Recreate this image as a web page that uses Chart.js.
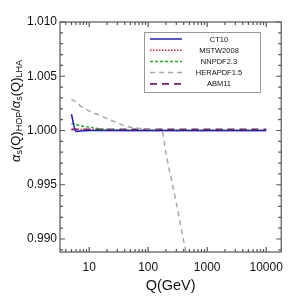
<!DOCTYPE html>
<html>
<head>
<meta charset="utf-8">
<script src="https://cdn.jsdelivr.net/npm/chart.js@4"></script>
<style>
  html, body { margin: 0; padding: 0; background: #fff; }
  #wrap { width: 291px; height: 299px; position: relative; }
</style>
</head>
<body>
<div id="wrap"><canvas id="chart" width="291" height="299"></canvas></div>
<script>
// Q in GeV
const qValues = [5, 6, 7, 10, 15, 20, 30, 50, 70, 100, 150, 170, 200, 300, 400, 500, 1000, 2000, 5000, 10000];

const ct10   = [1.0015, 0.9999, 0.99995, 1.0, 1.0, 1.0, 1.0, 1.0, 1.0, 1.0, 1.0, 1.0, 1.0, 1.0, 1.0, 1.0, 1.0, 1.0, 1.0, 1.0];
const mstw   = [1.0001, 1.0001, 1.0001, 1.00005, 1.00005, 1.0, 1.0, 1.0, 1.0, 1.0, 1.0, 1.0, 1.0, 1.0, 1.0, 1.0, 1.0, 1.0, 1.0, 1.0];
const nnpdf  = [1.00065, 1.00055, 1.00045, 1.0003, 1.00015, 1.0001, 1.00005, 1.0, 1.0, 1.0, 1.0, 1.0, 1.0, 1.0, 1.0, 1.0, 1.0, 1.0, 1.0, 1.0];
const hera   = [1.0029, 1.0026, 1.0023, 1.0018, 1.0014, 1.0011, 1.0007, 1.0003, 1.0002, 1.0001, 1.00003, 1.0, 0.9979, 0.9933, 0.9898, 0.9872, null, null, null, null];
const abm11  = [1.0001, 1.0001, 1.0001, 1.0001, 1.0001, 1.0001, 1.0001, 1.0001, 1.0001, 1.0001, 1.0001, 1.0001, 1.0001, 1.0001, 1.0001, 1.0001, 1.0001, 1.0001, 1.0001, 1.0001];

const xTicks = [10, 100, 1000, 10000];
const yTicks = [0.990, 0.995, 1.000, 1.005, 1.010];

const series = [
  { label: 'CT10',       data: ct10,  color: '#1c1cc8', dash: [],      width: 1.5 },
  { label: 'MSTW2008',   data: mstw,  color: '#e02020', dash: [1.5, 1.5], width: 1.5 },
  { label: 'NNPDF2.3',   data: nnpdf, color: '#18b018', dash: [3, 2],  width: 1.5 },
  { label: 'HERAPDF1.5', data: hera,  color: '#a8a8a8', dash: [5, 4],  width: 1.5 },
  { label: 'ABM11',      data: abm11, color: '#7a1a6a', dash: [7, 5],  width: 1.8 }
];

const frameTicks = {
  id: 'frameTicks',
  afterDraw(chart) {
    const ctx = chart.ctx, a = chart.chartArea;
    const xs = chart.scales.x, ys = chart.scales.y;
    ctx.save();
    ctx.strokeStyle = '#555';
    ctx.lineWidth = 1.2;
    ctx.strokeRect(a.left, a.top, a.right - a.left, a.bottom - a.top);

    // y ticks, major every 0.005, minor every 0.001
    for (let i = 989; i <= 1010; i++) {
      const v = i / 1000;
      const y = ys.getPixelForValue(v);
      if (y < a.top - 0.5 || y > a.bottom + 0.5) continue;
      const len = (i % 5 === 0) ? 5 : 3;
      ctx.beginPath();
      ctx.moveTo(a.left, y); ctx.lineTo(a.left + len, y);
      ctx.moveTo(a.right, y); ctx.lineTo(a.right - len, y);
      ctx.stroke();
    }
    // x ticks, log decades with minors
    for (let d = 1; d <= 10000; d *= 10) {
      for (let m = 1; m <= 9; m++) {
        const v = d * m;
        const x = xs.getPixelForValue(v);
        if (x < a.left + 0.5 || x > a.right - 0.5) continue;
        const len = (m === 1) ? 5 : 3;
        ctx.beginPath();
        ctx.moveTo(x, a.bottom); ctx.lineTo(x, a.bottom - len);
        ctx.moveTo(x, a.top); ctx.lineTo(x, a.top + len);
        ctx.stroke();
      }
    }

    // legend box
    const lx = 144, ly = 32, lw = 116, lh = 60;
    ctx.fillStyle = '#fff';
    ctx.fillRect(lx, ly, lw, lh);
    ctx.strokeStyle = '#999';
    ctx.lineWidth = 1;
    ctx.strokeRect(lx + 0.5, ly + 0.5, lw, lh);
    ctx.font = '7.5px "Liberation Sans", Arial, sans-serif';
    ctx.textAlign = 'center';
    ctx.textBaseline = 'middle';
    series.forEach((s, i) => {
      const y = ly + 7 + i * 11.2;
      ctx.strokeStyle = s.color;
      ctx.lineWidth = s.width;
      ctx.setLineDash(s.dash);
      ctx.beginPath();
      ctx.moveTo(lx + 6, y); ctx.lineTo(lx + 38, y);
      ctx.stroke();
      ctx.setLineDash([]);
      ctx.fillStyle = '#111';
      ctx.fillText(s.label, lx + 75, y + 0.5);
    });

    // y axis title with subscripts
    ctx.translate(15, 111);
    ctx.rotate(-Math.PI / 2);
    const parts = [
      ['α', 'i', 0], ['s', 'n', 1], ['(Q)', 'n', 0], ['HOP', 'n', 1], ['/', 'n', 0],
      ['α', 'i', 0], ['s', 'n', 1], ['(Q)', 'n', 0], ['LHA', 'n', 1]
    ];
    const fnt = (p) => (p[1] === 'i' ? 'italic ' : '') + (p[2] ? '9px' : '13px') + ' "Liberation Sans", Arial, sans-serif';
    let total = 0;
    parts.forEach(p => { ctx.font = fnt(p); total += ctx.measureText(p[0]).width; });
    let cx = -total / 2;
    ctx.textAlign = 'left';
    ctx.textBaseline = 'alphabetic';
    ctx.fillStyle = '#111';
    parts.forEach(p => {
      ctx.font = fnt(p);
      ctx.fillText(p[0], cx, p[2] ? 7 : 4.5);
      cx += ctx.measureText(p[0]).width;
    });
    ctx.restore();
  }
};

new Chart(document.getElementById('chart'), {
  type: 'line',
  data: {
    labels: qValues,
    datasets: series.map(s => ({
      label: s.label,
      data: qValues.map((q, i) => ({ x: q, y: s.data[i] })),
      borderColor: s.color,
      borderDash: s.dash,
      borderWidth: s.width,
      pointRadius: 0,
      fill: false,
      cubicInterpolationMode: 'monotone',
      spanGaps: false
    }))
  },
  options: {
    responsive: false,
    animation: false,
    layout: { padding: { top: 22, right: 2, left: 0, bottom: 0 } },
    plugins: { legend: { display: false }, tooltip: { enabled: false } },
    scales: {
      x: {
        type: 'logarithmic',
        min: 3.2,
        max: 18000,
        afterBuildTicks: s => { s.ticks = xTicks.map(v => ({ value: v })); },
        afterFit: s => { s.height = 47; },
        grid: { display: false, drawTicks: false },
        border: { display: false },
        ticks: {
          maxRotation: 0,
          autoSkip: false,
          padding: 8,
          color: '#111',
          font: { family: '"Liberation Sans", Arial, sans-serif', size: 12 },
          callback: v => String(v)
        },
        title: {
          display: true,
          text: 'Q(GeV)',
          color: '#111',
          padding: { top: 5 },
          font: { family: '"Liberation Sans", Arial, sans-serif', size: 14.5 }
        }
      },
      y: {
        min: 0.9888,
        max: 1.010,
        afterBuildTicks: s => { s.ticks = yTicks.map(v => ({ value: v })); },
        afterFit: s => { s.width = 60; },
        grid: { display: false, drawTicks: false },
        border: { display: false },
        ticks: {
          padding: 3,
          color: '#111',
          font: { family: '"Liberation Sans", Arial, sans-serif', size: 12 },
          callback: v => v.toFixed(3)
        }
      }
    }
  },
  plugins: [frameTicks]
});
</script>
</body>
</html>
